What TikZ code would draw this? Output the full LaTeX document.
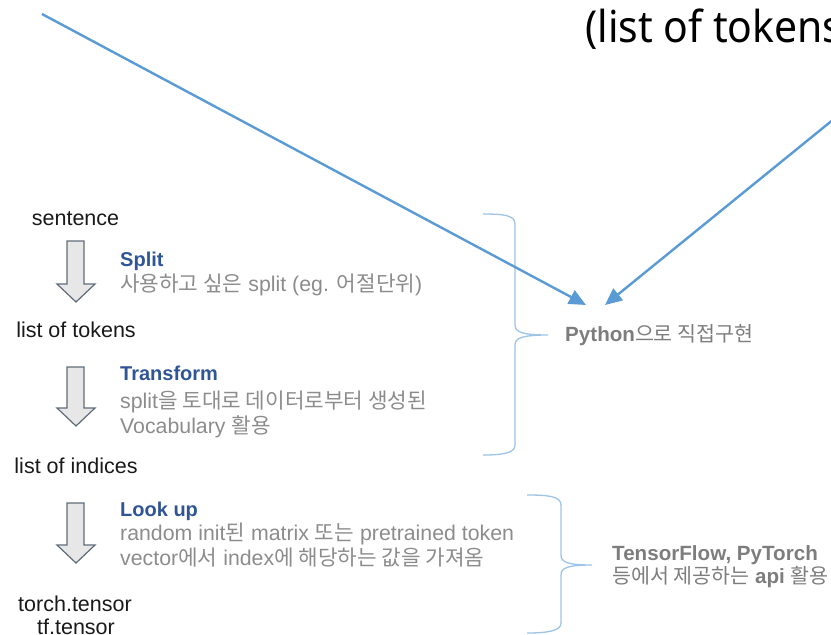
\documentclass[tikz,border=0pt]{standalone}
\usepackage{fontspec}
\setmainfont{Liberation Sans}
\newfontfamily\kofont{Noto Sans CJK KR}
\newfontfamily\topfont[FakeStretch=0.93]{Noto Sans}
\usetikzlibrary{arrows.meta}
\definecolor{lineblue}{RGB}{91,155,213}
\definecolor{braceblue}{RGB}{157,195,230}
\definecolor{headblue}{RGB}{47,85,151}
\definecolor{desccol}{RGB}{140,140,140}
\definecolor{notecol}{RGB}{125,125,125}
\definecolor{arrfill}{RGB}{231,231,231}
\definecolor{arrdraw}{RGB}{96,107,122}
\newcommand\ko[1]{{\kofont #1}}
\newcommand\downblock[3]{\draw[blockarrow] (67,#1) -- (84,#1) -- (84,#2) -- (95,#2) -- (76,#3) -- (57,#2) -- (67,#2) -- cycle;}
\begin{document}
\begin{tikzpicture}[x=1pt,y=-1pt,
 lbl/.style={inner sep=0pt, anchor=base, font=\fontsize{21.5}{26}\selectfont, text=black!90},
 head/.style={inner sep=0pt, anchor=base west, font=\fontsize{20}{24}\selectfont\bfseries, text=headblue},
 desctext/.style={inner sep=0pt, anchor=base west, font=\fontsize{21.3}{25}\selectfont, text=desccol},
 notetext/.style={inner sep=0pt, anchor=base west, font=\fontsize{20.6}{24}\selectfont, text=notecol},
 blockarrow/.style={fill=arrfill, draw=arrdraw, line width=1.2pt, line join=miter},
 brace/.style={draw=braceblue, line width=1.3pt},
 pointer/.style={draw=lineblue, line width=2.4pt, -{Triangle[length=17pt,width=15pt]}},
]
\useasboundingbox (0,0) rectangle (831,635);
\clip (0,0) rectangle (831,635);

% block arrows
\downblock{241}{284}{302}
\downblock{367}{408}{426}
\downblock{503}{545}{563}

% left column labels
\node[lbl] (sent) at (75.5,225) {sentence};
\node[head] (split) at (120,266.5) {Split};
\node[desctext] (splitd) at (120,291.5) {\ko{사용하고 싶은} split (eg. \ko{어절단위})};
\node[lbl] (tok) at (76,337) {list of tokens};
\node[head] (trans) at (120,380) {Transform};
\node[desctext] (transd1) at (120,408) {split\ko{을 토대로 데이터로부터 생성된}};
\node[desctext] (transd2) at (120,433) {Vocabulary \ko{활용}};
\node[lbl] (idx) at (76,473) {list of indices};
\node[head] (look) at (120,516) {Look up};
\node[desctext] (lookd1) at (120,540) {random init\ko{된} matrix \ko{또는} pretrained token};
\node[desctext] (lookd2) at (120,565) {vector\ko{에서} index\ko{에 해당하는 값을 가져옴}};
\node[lbl] (torch) at (75,611) {torch.tensor};
\node[lbl] (tf) at (76,634) {tf.tensor};

% braces
\draw[brace] (483,214) .. controls (503,214) and (515,215) .. (515,224) -- (515,325)
  .. controls (515,332) and (522,335) .. (548,335)
  .. controls (522,335) and (515,338) .. (515,345) -- (515,445)
  .. controls (515,453) and (503,455) .. (483,455);
\draw[brace] (527,495) .. controls (547,495) and (561,496) .. (561,505) -- (561,555)
  .. controls (561,562) and (567,565) .. (592,565)
  .. controls (567,565) and (561,568) .. (561,575) -- (561,623)
  .. controls (561,631) and (547,633) .. (527,633);

% right notes
\node[notetext] (py) at (565,341) {\textbf{Python}\ko{으로 직접구현}};
\node[notetext] (tfpt1) at (612,560) {\textbf{TensorFlow, PyTorch}};
\node[notetext] (tfpt2) at (612,583) {\ko{등에서 제공하는} \textbf{api} \ko{활용}};

% top text
\node[anchor=base west, inner sep=0pt, font=\topfont\fontsize{44}{50}\selectfont, text=black] (top) at (585,42) {(list of tokens};

% pointers
\coordinate (p1s) at (42,14);
\coordinate (p1e) at (586,305);
\coordinate (p2s) at (845,110);
\coordinate (p2e) at (605,305);
\draw[pointer] (p1s) -- (p1e);
\draw[pointer] (p2s) -- (p2e);
\end{tikzpicture}
\end{document}
